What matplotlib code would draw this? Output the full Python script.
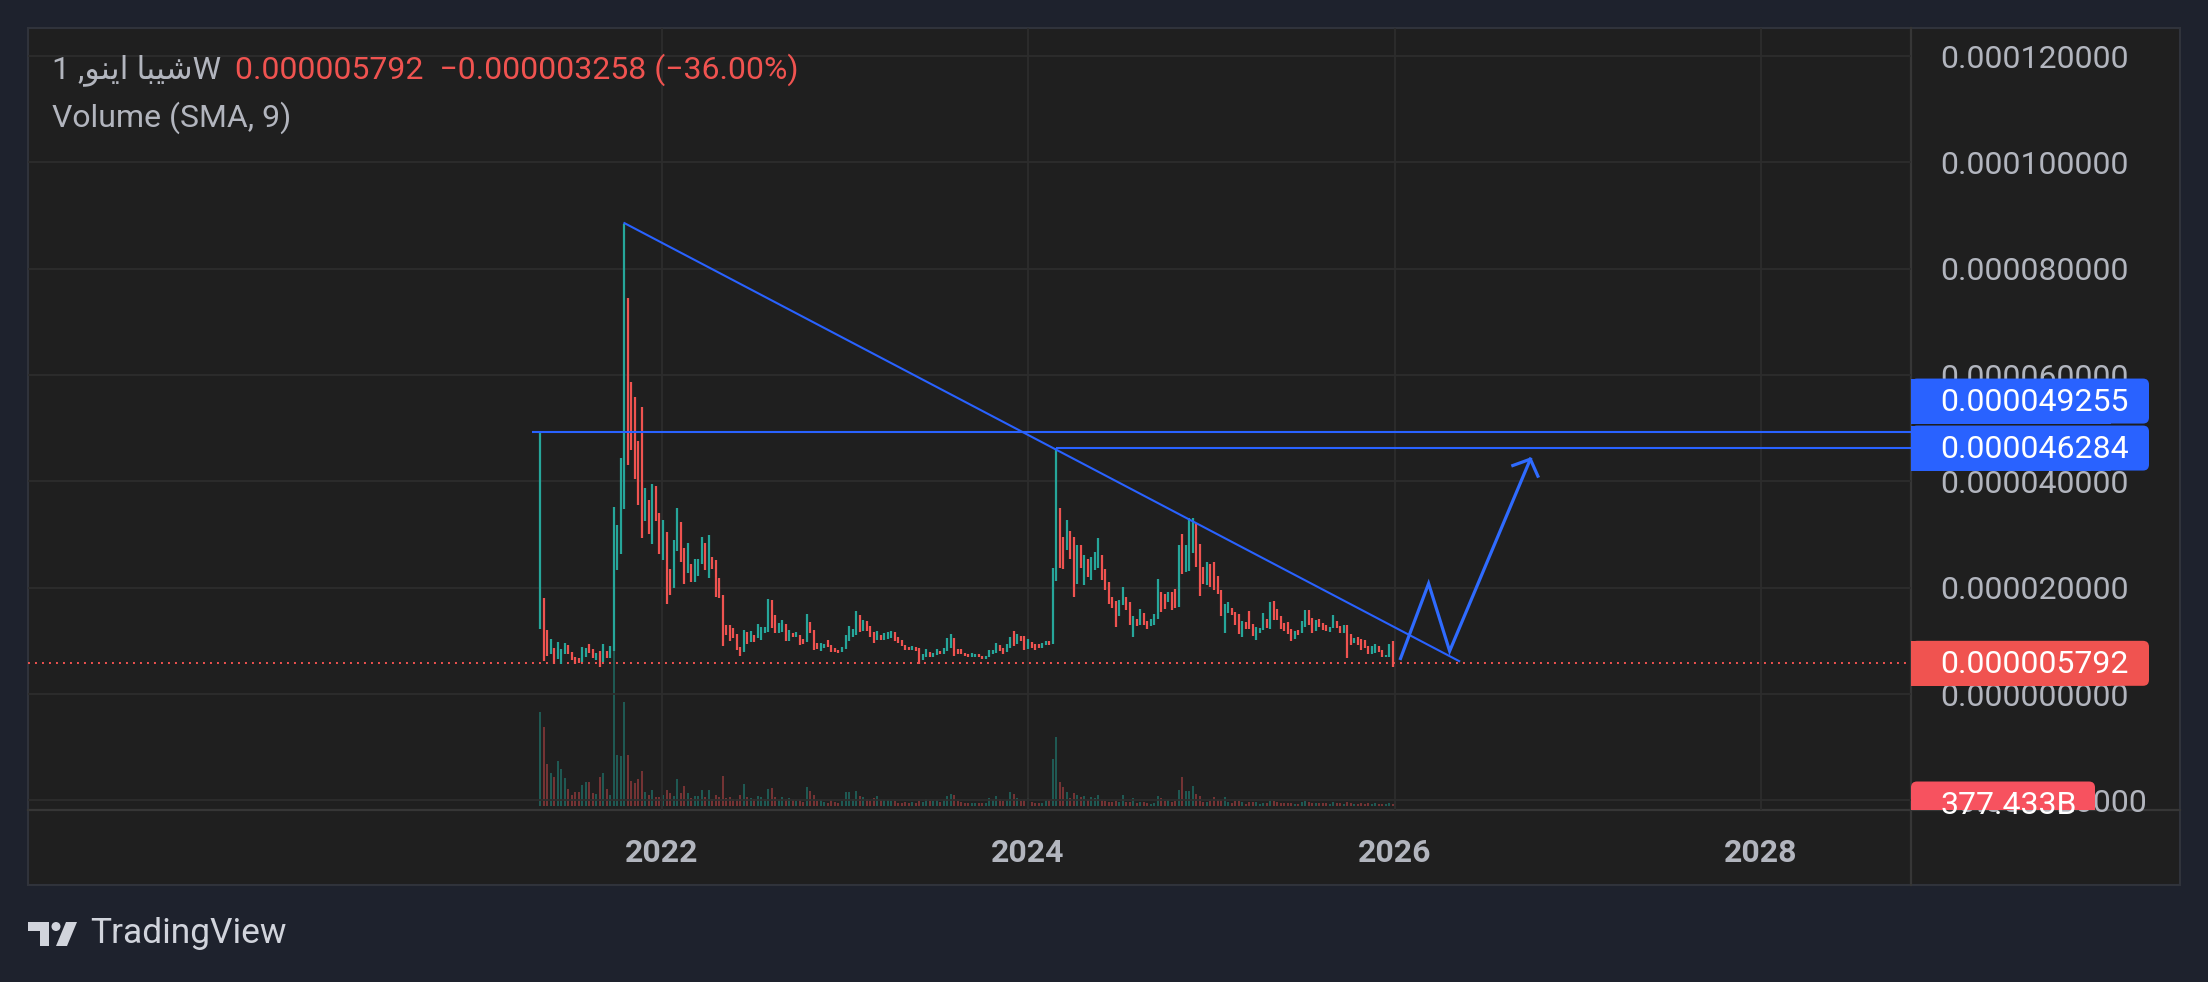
import numpy as np
import matplotlib
matplotlib.use('Agg')
import matplotlib.pyplot as plt
import matplotlib.dates as mdates
from matplotlib.patches import Rectangle, FancyBboxPatch, Circle, Polygon

plt.rcParams['font.family'] = ['Roboto', 'DejaVu Sans']

# weekly bars, first one starts on this monday
first_week = '2021-05-03'

# highs / lows in units of 1e-6
high_u = [49.26, 18.1, 12.0, 10.4, 8.7, 9.8, 8.5, 9.6, 9.3, 7.9, 7.0, 6.8, 8.9, 8.7, 9.4, 8.5, 7.8, 8.1, 9.4, 8.1,
          9.0, 35.2, 31.9, 44.5, 88.4, 74.5, 58.8, 55.8, 47.7, 54.1, 38.7, 36.6, 39.6, 39.2, 34.0, 32.7, 30.4, 23.5, 28.9, 35.1,
          32.3, 27.4, 28.5, 24.4, 25.4, 25.5, 29.5, 28.4, 29.9, 25.7, 25.2, 21.8, 18.6, 13.0, 13.0, 12.4, 11.3, 8.9, 12.0, 11.6,
          11.8, 11.1, 13.1, 12.6, 12.6, 17.8, 17.7, 14.8, 13.3, 13.9, 13.1, 12.0, 11.5, 11.6, 11.1, 10.3, 15.0, 13.5, 12.0, 9.6,
          9.6, 9.4, 10.1, 9.2, 8.6, 8.3, 8.8, 11.1, 12.8, 12.2, 15.6, 14.8, 13.9, 13.7, 12.8, 11.6, 11.8, 11.1, 11.5, 11.6,
          11.8, 11.6, 10.7, 10.1, 9.2, 8.8, 9.0, 8.8, 8.6, 7.5, 8.5, 7.9, 7.7, 8.5, 8.1, 8.6, 10.5, 11.3, 10.5, 8.5,
          8.5, 7.7, 7.5, 7.7, 7.5, 7.5, 7.1, 7.1, 8.3, 8.3, 9.6, 9.2, 8.6, 9.4, 10.7, 11.8, 11.3, 10.9, 10.9, 10.3,
          9.8, 9.4, 9.4, 9.6, 10.0, 10.0, 23.8, 46.28, 35.1, 29.5, 32.7, 30.6, 29.5, 28.0, 28.0, 26.1, 25.5, 25.7, 26.7, 29.3,
          26.1, 23.5, 21.0, 18.2, 17.5, 17.7, 20.1, 18.2, 17.3, 14.6, 14.1, 16.0, 15.2, 13.7, 14.1, 15.0, 21.6, 19.3, 18.8, 19.3,
          19.2, 19.7, 28.0, 30.2, 28.0, 33.1, 33.2, 32.1, 28.2, 24.0, 24.8, 24.4, 24.8, 22.2, 19.5, 16.9, 17.3, 16.2, 15.4, 15.0,
          13.7, 13.5, 15.6, 13.1, 12.6, 12.4, 15.2, 14.1, 17.3, 17.5, 16.0, 14.6, 13.3, 13.5, 12.2, 11.8, 12.0, 13.7, 15.8, 15.8,
          14.3, 13.9, 14.1, 13.3, 13.0, 12.6, 14.8, 13.7, 12.8, 13.0, 13.0, 11.3, 10.5, 10.7, 10.3, 10.1, 9.0, 9.0, 9.4, 9.0,
          8.3, 7.3, 9.4, 10.0]
low_u = [12.2, 6.2, 7.1, 7.5, 5.6, 6.6, 5.6, 7.6, 7.6, 6.5, 5.7, 5.9, 6.1, 7.0, 7.8, 6.8, 6.4, 5.1, 6.1, 6.7,
         6.8, 8.1, 23.4, 26.4, 34.9, 43.1, 45.9, 40.4, 35.5, 29.4, 32.5, 30.1, 28.2, 32.5, 26.3, 25.2, 17.0, 18.6, 20.0, 26.9,
         24.8, 20.7, 22.8, 21.1, 21.1, 22.2, 24.5, 23.3, 21.8, 23.5, 18.3, 18.0, 9.0, 11.1, 10.0, 10.5, 8.3, 7.1, 7.9, 9.4,
         9.8, 9.8, 10.5, 10.1, 11.5, 11.6, 12.4, 11.5, 11.5, 11.6, 10.0, 10.0, 10.7, 10.7, 9.2, 9.4, 9.8, 11.5, 8.3, 8.5,
         8.1, 8.6, 8.8, 7.9, 7.9, 7.7, 7.9, 8.5, 10.0, 10.7, 11.1, 11.6, 11.8, 11.8, 10.7, 9.6, 10.1, 10.1, 10.1, 10.3,
         10.5, 10.0, 9.6, 9.0, 8.3, 8.3, 8.3, 8.1, 5.6, 6.4, 7.0, 7.0, 7.0, 7.3, 7.5, 7.5, 8.1, 8.6, 7.1, 7.5,
         7.5, 7.1, 7.0, 7.0, 7.0, 7.0, 6.6, 6.6, 7.0, 7.5, 7.7, 8.1, 7.5, 7.9, 8.6, 9.0, 9.4, 10.0, 8.3, 8.5,
         8.6, 8.3, 8.6, 8.6, 9.2, 9.2, 9.4, 21.2, 23.7, 23.5, 27.2, 25.4, 18.2, 20.7, 23.8, 20.5, 22.0, 21.4, 23.3, 23.8,
         21.4, 19.5, 16.9, 16.2, 12.6, 14.6, 16.7, 15.8, 13.0, 10.7, 12.8, 13.0, 13.0, 12.2, 12.8, 13.0, 14.1, 15.4, 16.0, 17.3,
         15.8, 16.2, 16.3, 22.5, 22.9, 23.1, 26.5, 24.0, 18.4, 20.8, 20.5, 20.1, 19.5, 18.8, 14.6, 11.5, 15.2, 14.8, 13.0, 11.3,
         10.7, 12.2, 12.2, 10.9, 10.1, 11.5, 12.0, 12.4, 12.2, 13.9, 13.9, 12.2, 11.8, 11.3, 10.0, 10.3, 11.1, 11.5, 12.6, 13.0,
         11.5, 11.8, 12.6, 12.0, 11.8, 11.6, 12.4, 12.4, 11.5, 11.5, 6.8, 9.2, 9.6, 9.2, 8.3, 8.6, 7.5, 7.5, 7.7, 7.9,
         7.0, 7.0, 7.0, 5.1]
# u = close above open, d = close below open
updown = ''.join([
    'udduduuudd', 'dduuddudud', 'uuuuuddddd', 'ududdudduu', 'dduduuudud',
    'ddddddddud', 'uduuuudduu', 'dududduddd', 'uudddduuuu', 'ududdduduu',
    'uddddduddu', 'uduuduuudd', 'ddduudduuu', 'udduududdu', 'ddduuduudd',
    'uddududuuu', 'ddddduuddu', 'dudduuuddu', 'dduduuuddd', 'udddduuddd',
    'uddduuudud', 'ddddduduud', 'duddduuddu', 'ddudddduud', 'duud',
])
# volume in trillions
volume_t = [17.9, 15.0, 7.98, 6.27, 5.51, 8.55, 7.03, 5.32, 3.23, 2.09,
            2.66, 2.66, 3.99, 4.56, 4.56, 2.47, 2.28, 5.51, 6.27, 3.23,
            2.09, 29.6, 9.69, 9.50, 19.8, 9.69, 4.75, 4.37, 5.13, 6.65,
            2.66, 2.09, 3.04, 1.71, 1.71, 2.09, 3.04, 2.47, 1.90, 5.13,
            2.47, 3.80, 2.47, 1.52, 1.90, 1.90, 3.04, 1.71, 3.04, 1.33,
            2.09, 1.71, 5.70, 1.52, 1.71, 1.33, 1.33, 2.09, 4.18, 1.71,
            1.52, 1.33, 1.90, 1.71, 1.33, 3.23, 3.42, 1.71, 1.14, 1.71,
            1.33, 1.52, 1.14, 0.95, 1.14, 0.76, 3.61, 2.85, 2.09, 0.95,
            1.14, 0.76, 0.57, 1.14, 0.76, 0.57, 0.95, 2.66, 2.66, 1.33,
            2.85, 1.90, 1.71, 1.33, 0.95, 1.52, 1.90, 1.14, 1.14, 1.14,
            0.95, 0.95, 0.57, 0.57, 0.76, 0.57, 0.76, 0.57, 0.95, 0.76,
            1.33, 0.95, 0.95, 1.14, 0.76, 1.14, 1.90, 2.28, 2.09, 0.95,
            0.76, 0.57, 0.57, 0.57, 0.57, 0.57, 0.57, 0.57, 1.52, 1.14,
            1.90, 1.33, 0.95, 1.14, 2.66, 2.28, 1.52, 0.95, 1.14, 1.52,
            0.76, 0.57, 0.57, 0.57, 1.14, 1.14, 8.93, 13.1, 4.56, 3.61,
            2.66, 1.52, 2.47, 2.09, 1.71, 1.90, 1.14, 1.71, 1.52, 2.09,
            1.14, 0.95, 0.76, 0.76, 0.95, 0.76, 2.09, 0.76, 0.76, 1.52,
            0.57, 0.76, 0.76, 0.57, 0.38, 0.57, 1.90, 1.52, 0.95, 1.14,
            0.76, 0.95, 3.04, 5.51, 2.85, 2.85, 3.80, 2.28, 1.90, 0.76,
            0.76, 0.95, 1.71, 1.14, 1.14, 1.71, 0.76, 0.57, 0.95, 0.95,
            0.76, 0.38, 0.76, 0.76, 0.76, 0.38, 0.57, 0.57, 0.95, 0.95,
            0.76, 0.57, 0.57, 0.57, 0.57, 0.38, 0.38, 0.76, 0.95, 0.76,
            0.57, 0.57, 0.57, 0.57, 0.57, 0.38, 0.76, 0.57, 0.57, 0.38,
            0.76, 0.57, 0.38, 0.38, 0.57, 0.38, 0.57, 0.38, 0.57, 0.38,
            0.38, 0.38, 0.57, 0.377433]

last_price = 0.000005792
change_abs = -0.000003258
change_pct = -36.00
last_volume_label = '377.433B'

level_values = [0.000049255, 0.000046284]
level_starts = ['2021-04-16', '2024-02-26']
trend_dates = ['2021-10-18', '2026-05-10']
trend_prices = [88.6e-6, 6.2e-6]
zigzag_dates = ['2026-01-13', '2026-03-10', '2026-04-21', '2026-09-29']
zigzag_prices = [6.7e-6, 20.8e-6, 8.1e-6, 44.2e-6]
head_dates = ['2026-08-25', '2026-09-29', '2026-10-14']
head_prices = [43.0e-6, 44.2e-6, 41.0e-6]

price_ticks = [-20e-6, 0.0, 20e-6, 40e-6, 60e-6, 80e-6, 100e-6, 120e-6]
year_ticks = ['2022-01-01', '2024-01-01', '2026-01-01', '2028-01-01']
year_labels = ['2022', '2024', '2026', '2028']

# arabic name, glyphs in visual (left to right) order, joined forms
name_visual = '\ufeee\ufee8\ufef3\ufe8d \ufe8e\ufe92\ufef4\ufeb7'
title_left = '1 ,' + name_visual + 'W'

UP = '#26a69a'
DOWN = '#ef5350'
BLUE = '#2962ff'
TXT = '#b2b5be'

W, H = 2208, 982
L, T, R, B = 28, 28, 2180, 885
PR, PB = 1911, 810  # price pane right / bottom

def d2n(s):
    return mdates.date2num(np.datetime64(s))

n = len(high_u)
dates = np.datetime64(first_week) + np.arange(n) * np.timedelta64(7, 'D')
xs = mdates.date2num(dates)
hi = np.array(high_u) * 1e-6
lo = np.array(low_u) * 1e-6
cols = [UP if c == 'u' else DOWN for c in updown]
vcols = ['#1f6b63' if c == 'u' else '#8f3a3b' for c in updown]

fig = plt.figure(figsize=(W / 100, H / 100), dpi=100, facecolor='#1e222d')

bg = fig.add_axes([0, 0, 1, 1], zorder=0)
bg.set_xlim(0, W)
bg.set_ylim(H, 0)
bg.axis('off')
bg.add_patch(Rectangle((L, T), R - L, B - T, facecolor='#1f1f1f', edgecolor='#30333b', lw=1.5))
bg.plot([PR, PR], [T, B], color='#363636', lw=1.6)
bg.plot([L, R], [PB, PB], color='#363636', lw=1.6)

rect = [L / W, 1 - PB / H, (PR - L) / W, (PB - T) / H]
vax = fig.add_axes(rect, zorder=1)
ax = fig.add_axes(rect, zorder=2)
ax.patch.set_visible(False)

x0, x1 = d2n('2022-01-01'), d2n('2024-01-01')
ppd = (1028 - 662) / (x1 - x0)
xlim = (x0 - (662 - L) / ppd, x0 + (PR - 662) / ppd)
ax.set_xlim(xlim)
ax.set_ylim(-21.8e-6, 125.3e-6)
vax.set_xlim(xlim)
vax.set_ylim(-0.76, 147.8)
vax.axis('off')

vax.vlines(xs, 0, volume_t, colors=vcols, lw=1.1)

ax.set_yticks(price_ticks)
ax.set_yticklabels([('%.9f' % v).replace('-', '\u2212') for v in price_ticks])
ax.yaxis.tick_right()
ax.tick_params(axis='y', length=0, pad=21, labelsize=23, labelcolor=TXT)
ax.set_xticks([d2n(s) for s in year_ticks])
ax.set_xticklabels(year_labels, fontweight='bold')
ax.tick_params(axis='x', length=0, pad=20, labelsize=23, labelcolor=TXT)
ax.grid(True, color='#2d2d2d', lw=1.3)
ax.set_axisbelow(True)
for s in ax.spines.values():
    s.set_visible(False)

ax.vlines(xs, lo, hi, colors=cols, lw=1.6, zorder=3)

ax.axhline(last_price, color='#f05350', lw=1.4, dashes=(1, 2.6), zorder=2)
for v, s in zip(level_values, level_starts):
    ax.hlines(v, d2n(s), xlim[1], color=BLUE, lw=1.5, zorder=4)
ax.plot([d2n(s) for s in trend_dates], trend_prices, color=BLUE, lw=1.5, zorder=4)
ax.plot([d2n(s) for s in zigzag_dates], zigzag_prices, color='#2f6bff', lw=2.3, zorder=4,
        solid_joinstyle='miter')
ax.plot([d2n(s) for s in head_dates], head_prices, color='#2f6bff', lw=2.3, zorder=4)

# overlay: header, price scale labels, logo
ov = fig.add_axes([0, 0, 1, 1], zorder=5)
ov.set_xlim(0, W)
ov.set_ylim(H, 0)
ov.axis('off')

t1 = ov.text(52, 70, title_left, color=TXT, fontsize=23, va='center', ha='left')
red_txt = '%.9f  %s%.9f (%s%.2f%%)' % (last_price, '\u2212', abs(change_abs), '\u2212', abs(change_pct))
ov.annotate(red_txt, xy=(1, 0.5), xycoords=t1, xytext=(14, 0), textcoords='offset pixels',
            color='#f05350', fontsize=23, va='center', ha='left')
ov.text(52, 118, 'Volume (SMA, 9)', color=TXT, fontsize=23, va='center', ha='left')


def to_px(v):
    return H - ax.transData.transform((xlim[0], v))[1]


def to_px_vol(v):
    return H - vax.transData.transform((xlim[0], v))[1]


clip = Rectangle((PR, T), R - PR, PB - T, transform=ov.transData, visible=False)
ov.add_patch(clip)


def price_box(yc, text, color):
    bh = 45
    p = FancyBboxPatch((PR, yc - bh / 2), 2149 - PR, bh, boxstyle='round,pad=0,rounding_size=6',
                       facecolor=color, edgecolor='none', zorder=6)
    ov.add_patch(p)
    q = Rectangle((PR, yc - bh / 2), 200, bh, facecolor=color, edgecolor='none', zorder=6)
    ov.add_patch(q)
    tx = ov.text(1940, yc + 1, text, color='white', fontsize=23, va='center', ha='left', zorder=7)
    for a in (p, q, tx):
        a.set_clip_path(clip)


c2 = to_px(level_values[1])
c1 = min(to_px(level_values[0]), c2 - 47)
price_box(c1, '%.9f' % level_values[0], BLUE)
price_box(c2, '%.9f' % level_values[1], BLUE)
price_box(to_px(last_price), '%.9f' % last_price, '#f05350')

vb = to_px_vol(volume_t[-1])
p = FancyBboxPatch((PR, vb - 22.5), 2095 - PR, 45, boxstyle='round,pad=0,rounding_size=6',
                   facecolor='#f7525f', edgecolor='none', zorder=6)
ov.add_patch(p)
p.set_clip_path(clip)
tv = ov.text(1940, vb + 1, last_volume_label, color='white', fontsize=23, va='center', ha='left', zorder=7)
tv.set_clip_path(clip)

# TradingView logo
ov.add_patch(Polygon([(28, 922), (49, 922), (49, 946), (40, 946), (40, 931), (28, 931)],
                     closed=True, facecolor='#d1d4dc', edgecolor='none'))
ov.add_patch(Circle((56, 926.5), 4.5, facecolor='#d1d4dc', edgecolor='none'))
ov.add_patch(Polygon([(66, 922), (77, 922), (67, 946), (56, 946)], closed=True,
                     facecolor='#d1d4dc', edgecolor='none'))
ov.text(90, 934, 'TradingView', color='#d1d4dc', fontsize=25.5, va='center', ha='left')

fig.savefig('out.png', dpi=100, facecolor=fig.get_facecolor())
